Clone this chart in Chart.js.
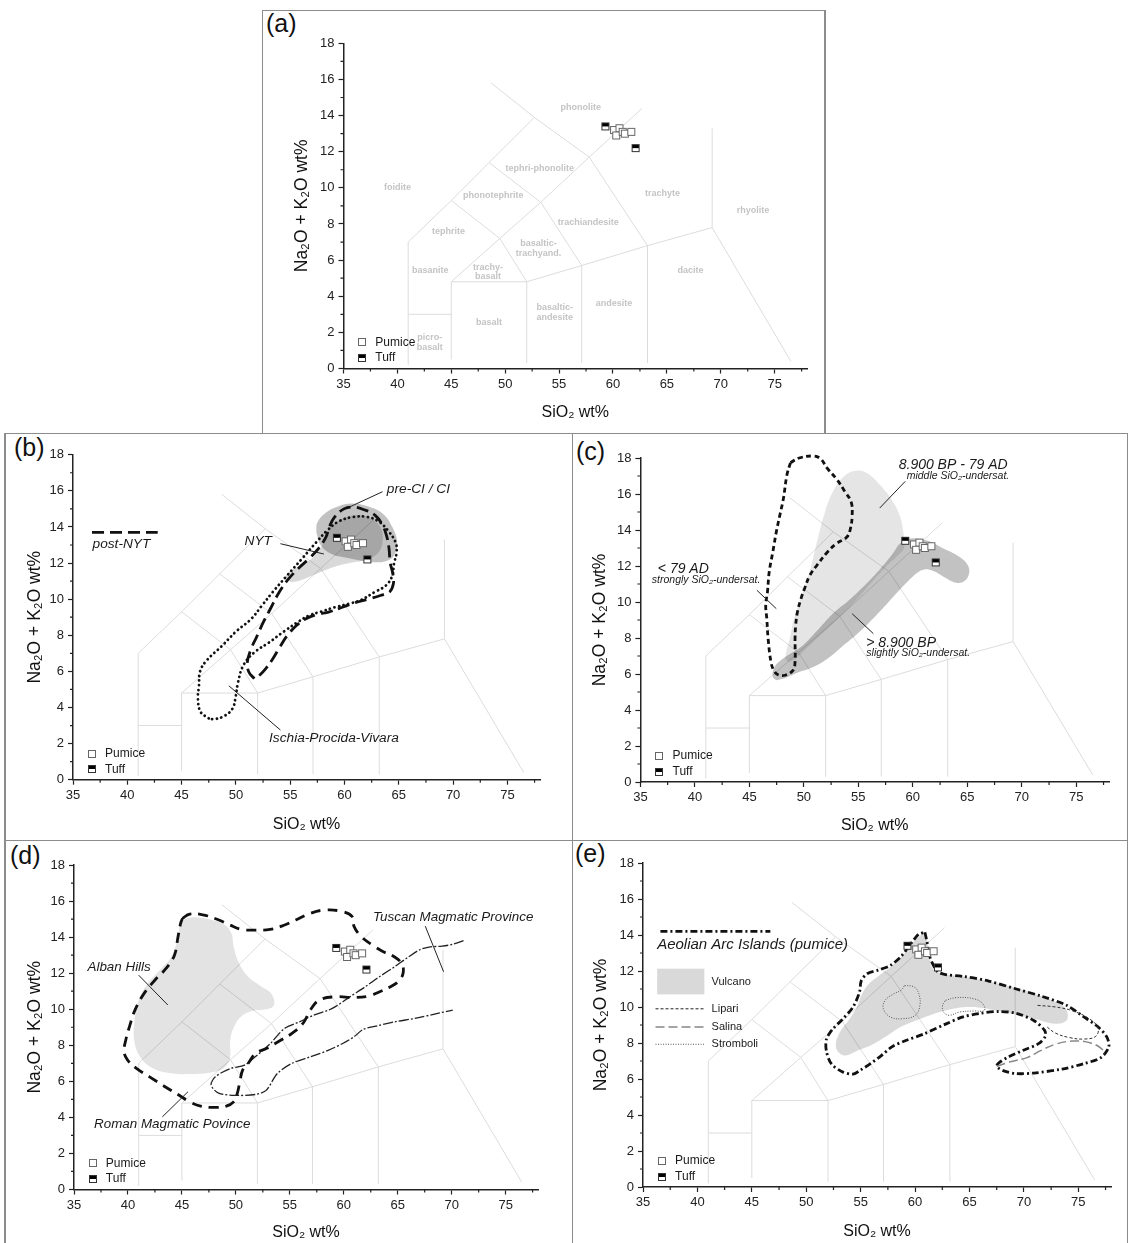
<!DOCTYPE html>
<html>
<head>
<meta charset="utf-8">
<title>TAS diagrams</title>
<script src="https://cdn.jsdelivr.net/npm/chart.js@4.4.1/dist/chart.umd.min.js"></script>
<style>
  html, body { margin: 0; background: #fff; }
  body { position: relative; width: 1129px; height: 1243px; overflow: hidden; font-family: "Liberation Sans", Arial, sans-serif; }
  canvas { position: absolute; }
  .rule { position: absolute; background: #8c8c8c; }
  .tag { position: absolute; font-size: 25px; line-height: 25px; color: #111; }
</style>
</head>
<body>
<div class="rule" style="left:261.5px;top:9.5px;width:1.5px;height:424px"></div>
<div class="rule" style="left:824px;top:9.5px;width:1.5px;height:424px"></div>
<div class="rule" style="left:261.5px;top:9.5px;width:564px;height:1.5px"></div>
<div class="rule" style="left:4px;top:432.5px;width:1124px;height:1.5px"></div>
<div class="rule" style="left:4px;top:839.5px;width:1124px;height:1.5px"></div>
<div class="rule" style="left:4px;top:433px;width:1.5px;height:810px"></div>
<div class="rule" style="left:571.5px;top:433px;width:1.5px;height:810px"></div>
<div class="rule" style="left:1126.5px;top:433px;width:1.5px;height:810px"></div>
<div class="tag" style="left:266px;top:11px">(a)</div>
<div class="tag" style="left:14px;top:435px">(b)</div>
<div class="tag" style="left:576px;top:439px">(c)</div>
<div class="tag" style="left:10px;top:843px">(d)</div>
<div class="tag" style="left:575px;top:841px">(e)</div>
<script>
// axis ticks
const xTicks = [35, 40, 45, 50, 55, 60, 65, 70, 75];
const yTicks = [0, 2, 4, 6, 8, 10, 12, 14, 16, 18];
const xMinor = [37.5, 42.5, 47.5, 52.5, 57.5, 62.5, 67.5, 72.5, 77.5];
const yMinor = [1, 3, 5, 7, 9, 11, 13, 15, 17];

// samples (SiO2 wt%, Na2O + K2O wt%)
const pumiceSiO2 = [60.1, 60.6, 60.3, 60.9, 61.1, 61.7];
const pumiceAlkali = [13.2, 13.3, 12.9, 13.1, 13.0, 13.1];
const tuffSiO2 = [59.3, 62.1];
const tuffAlkali = [13.4, 12.2];

// TAS classification boundaries
const tasLines = [
  [[41, 0.2], [41, 7], [45, 9.3], [48.5, 11.4], [52.7, 13.9]],
  [[48.7, 15.8], [52.7, 13.9], [57.8, 11.7], [63.2, 6.8]],
  [[45, 4.8], [49.5, 7.2], [53.3, 9.2], [57.8, 11.7], [62.7, 14.4]],
  [[45, 9.3], [49.5, 7.2], [52, 4.8]],
  [[48.5, 11.4], [53.3, 9.2], [57.1, 5.7]],
  [[41, 3], [45, 3]],
  [[45, 0.5], [45, 4.8], [52, 4.8], [57.1, 5.7], [63.2, 6.8], [69.2, 7.8], [76.5, 0.4]],
  [[52, 0.3], [52, 4.8]],
  [[57.1, 0.3], [57.1, 5.7]],
  [[63.2, 0.3], [63.2, 6.8]],
  [[69.2, 7.8], [69.2, 13.3]]
];
const fieldNames = ['foidite', 'phonolite', 'tephri-phonolite', 'phonotephrite', 'trachyte', 'rhyolite',
  'trachiandesite', 'tephrite', 'basaltic-\ntrachyand.', 'basanite', 'trachy-\nbasalt', 'dacite',
  'andesite', 'basaltic-\nandesite', 'basalt', 'picro-\nbasalt'];
const fieldAt = [[40, 10], [57, 14.45], [53.2, 11.05], [48.9, 9.6], [64.6, 9.7], [73, 8.75],
  [57.7, 8.1], [44.75, 7.6], [53.1, 6.65], [43.05, 5.45], [48.4, 5.35], [67.2, 5.4],
  [60.1, 3.6], [54.6, 3.1], [48.5, 2.55], [43, 1.45]];

// (b) Campi Flegrei / Ischia fields
const nytField = [[54.7, 11.05], [54.6, 11.3], [55.1, 11.6], [56.3, 11.95], [57.4, 12.5], [58.1, 13.15], [58.6, 13.9],
  [59.6, 14.4], [61, 14.65], [62.3, 14.5], [63.3, 14], [63.5, 13.15], [63, 12.5], [61.8, 12.15], [60.5, 12],
  [59.1, 11.8], [57.8, 11.5], [56.4, 11.15], [55.25, 10.95], [54.7, 11.05]];
const ciField = [[57.4, 13.7], [57.5, 14.25], [58.3, 14.8], [59.45, 15.15], [60.6, 15.3], [62.1, 15.15], [63.5, 14.75],
  [64.4, 14], [64.85, 13.15], [64.55, 12.4], [63.8, 12.1], [62.5, 12.05], [61.3, 12.15], [60.1, 12.3], [58.8, 12.5],
  [57.8, 13], [57.4, 13.7]];
const ischiaLoop = [[47.5, 3.4], [46.75, 3.75], [46.5, 4.5], [46.6, 5.2], [46.7, 6], [47.3, 6.6], [48.7, 7.4], [50, 8.2],
  [51.4, 8.9], [52.4, 9.65], [53.4, 10.4], [54.7, 11.3], [56.1, 12.25], [57.4, 13.15], [58.4, 13.8], [59.45, 14.3],
  [60.8, 14.55], [62.1, 14.55], [63.15, 14.3], [64, 13.8], [64.7, 13.15], [64.8, 12.6], [64.55, 11.95], [64.4, 11.3],
  [63.8, 10.75], [62.8, 10.4], [61.5, 9.95], [60.45, 9.75], [59.1, 9.55], [57.8, 9.3], [56.75, 9.1], [55.75, 8.75],
  [54.4, 8.2], [53.05, 7.6], [51.7, 7.05], [50.7, 6.35], [50.2, 5.4], [49.95, 4.5], [49.7, 3.95], [49, 3.55],
  [48, 3.35], [47.5, 3.4]];
const postNytLoop = [[51.7, 5.6], [51.2, 5.95], [51.05, 6.5], [51.4, 7.25], [51.9, 7.9], [52.55, 8.75], [53.25, 9.55],
  [53.9, 10.3], [54.75, 11.05], [55.75, 11.7], [56.75, 12.25], [57.6, 12.8], [58.3, 13.45], [58.6, 14], [59.1, 14.55],
  [59.95, 15], [60.8, 15.1], [61.8, 14.95], [62.8, 14.65], [63.5, 14.1], [63.9, 13.45], [64.1, 12.8], [64.2, 12.05],
  [64.45, 11.4], [64.5, 10.85], [64.15, 10.4], [63.3, 10.2], [62.15, 10], [60.95, 9.8], [59.8, 9.55], [58.6, 9.3],
  [57.45, 9.15], [56.4, 8.9], [55.6, 8.55], [54.75, 8], [54.05, 7.35], [53.4, 6.7], [52.75, 6.15], [52.2, 5.8], [51.7, 5.6]];

// (c) Somma-Vesuvius fields
const middleField = [[48.6, 6.67], [48.3, 6.85], [48.77, 8.15], [49.1, 9.07], [49.9, 10.56], [50.6, 11.85], [51.2, 13.33],
  [51.84, 14.81], [52.65, 16.11], [53.79, 17.04], [54.92, 17.31], [55.89, 17.13], [57.02, 16.48], [58, 15.74],
  [58.8, 14.81], [59.13, 13.89], [59.23, 13.06], [58.8, 12.69], [57.67, 12.04], [56.38, 11.2], [54.76, 10.09],
  [53.14, 9.07], [51.52, 8.15], [50.22, 7.41], [49.25, 6.85], [48.6, 6.67]];
const above8900Field = [[47.47, 5.65], [47.15, 5.83], [47.31, 6.39], [48.28, 6.94], [49.9, 7.59], [51.52, 8.61],
  [52.81, 9.44], [54.11, 10.09], [55.73, 11.02], [57.02, 11.85], [58.16, 12.69], [58.8, 13.24], [59.62, 13.52],
  [61.23, 13.43], [62.85, 12.96], [64.15, 12.56], [64.96, 12.13], [65.18, 11.67], [64.8, 11.2], [63.99, 11.07],
  [62.85, 11.39], [61.88, 11.72], [61.07, 11.81], [60.42, 11.63], [59.62, 11.2], [58.64, 10.59], [57.35, 9.72],
  [56.05, 8.89], [54.76, 8.15], [53.46, 7.5], [52.17, 6.85], [50.87, 6.39], [49.57, 6.11], [48.28, 5.78], [47.47, 5.65]];
const under79Loop = [[48.77, 17.74], [49.57, 18], [50.87, 18.11], [51.52, 17.96], [52.17, 17.41], [52.98, 16.85],
  [53.79, 16.11], [54.34, 15.56], [54.43, 14.81], [54.27, 14.07], [53.95, 13.61], [52.98, 13.24], [52.17, 12.78],
  [51.2, 12.04], [50.55, 11.48], [50.06, 10.74], [49.74, 10.19], [49.41, 9.44], [49.25, 8.7], [49.19, 7.96],
  [49.19, 6.67], [49, 6.2], [48.28, 5.93], [47.63, 5.96], [47.24, 6.2], [46.98, 6.67], [46.72, 7.96], [46.6, 9.07],
  [46.5, 9.81], [46.66, 10.56], [46.82, 11.67], [47.15, 12.78], [47.47, 13.89], [47.79, 14.81], [48.12, 15.74],
  [48.44, 17.04], [48.77, 17.74]];

// (d) Roman and Tuscan provinces
const albanField = [[44.8, 14.9], [46, 15.1], [47.4, 15], [48.9, 14.7], [49.6, 14.2], [49.8, 13.45], [50.3, 12.55],
  [51.15, 11.8], [52.15, 11.35], [53.15, 10.95], [53.55, 10.5], [53.45, 10.15], [52.85, 10], [51.5, 9.9], [50.5, 9.6],
  [49.9, 9.1], [49.5, 8.4], [49.45, 7.3], [49, 6.8], [47.8, 6.5], [45.8, 6.4], [44, 6.45], [42.4, 6.7], [41.2, 7.3],
  [40.6, 8.2], [40.6, 9.3], [41, 10.5], [41.8, 11.4], [43, 12.2], [44, 12.9], [44.6, 13.9], [44.75, 14.5], [44.8, 14.9]];
const romanLoop = [[45.05, 15.04], [45.73, 15.28], [47.08, 15.22], [48.43, 14.95], [49.45, 14.67], [50.47, 14.43],
  [51.48, 14.39], [53.17, 14.43], [54.53, 14.67], [55.54, 14.95], [56.9, 15.32], [58.25, 15.5], [59.94, 15.41],
  [60.79, 15.13], [60.96, 14.58], [61.63, 14.02], [62.65, 13.56], [63.66, 13.19], [64.68, 12.91], [65.36, 12.54],
  [65.52, 12.08], [65.19, 11.62], [64.34, 11.25], [63.32, 10.97], [62.31, 10.73], [60.96, 10.65], [59.26, 10.69],
  [57.74, 10.51], [56.9, 9.95], [56.22, 9.21], [55.2, 8.66], [54.19, 8.29], [52.83, 7.82], [51.82, 7.55], [51.14, 6.99],
  [50.63, 6.62], [50.4, 6.07], [50.13, 5.33], [49.79, 4.86], [49.11, 4.62], [48.1, 4.55], [46.74, 4.62], [45.73, 4.86],
  [44.71, 5.24], [43.36, 5.73], [42, 6.25], [40.82, 6.71], [39.97, 7.18], [39.64, 7.64], [39.8, 8.29], [40.14, 9.03],
  [40.65, 9.95], [41.5, 10.88], [42.51, 11.62], [43.53, 12.26], [44.31, 13], [44.64, 14.02], [44.88, 14.76], [45.05, 15.04]];
const tuscanLine = [[71.1, 13.8], [70.1, 13.6], [69.1, 13.5], [67.9, 13.45], [67.05, 13.3], [66, 12.9], [64.7, 12.35],
  [63.3, 11.8], [62, 11.25], [60.6, 10.7], [59.3, 10.17], [58.6, 9.95], [57.2, 9.67], [55.9, 9.3], [54.5, 8.93],
  [53.2, 8.1], [51.8, 7.36], [50.8, 6.9], [49.45, 6.7], [48.1, 6.25], [47.7, 5.8], [48.4, 5.35], [50.1, 5.22],
  [51.8, 5.27], [52.8, 5.5], [53.85, 6.44], [55.2, 7], [56.9, 7.36], [58.6, 7.73], [59.9, 8.1], [60.95, 8.47],
  [61.8, 8.88], [63, 9.06], [64.7, 9.3], [66.7, 9.5], [68.7, 9.77], [70.1, 9.95]];

// (e) Aeolian arc
const vulcanoField = [[52.75, 8.15], [53.18, 8.7], [53.99, 9.35], [54.64, 10], [55.13, 10.74], [55.78, 11.3],
  [56.92, 11.85], [57.9, 12.31], [58.88, 12.87], [59.69, 13.52], [60.34, 13.89], [60.83, 14.07], [61.16, 13.52],
  [61.32, 12.78], [61.64, 12.13], [62.46, 11.85], [64.41, 11.7], [67.67, 11.3], [70.93, 10.74], [73.53, 10.09],
  [74.02, 9.63], [73.86, 9.22], [72.88, 9.07], [70.93, 9.35], [67.67, 9.78], [65.07, 10], [62.79, 9.81], [60.5, 9.35],
  [58.55, 8.85], [57.25, 8.33], [55.94, 7.87], [54.64, 7.56], [53.66, 7.31], [53.18, 7.37], [52.75, 7.69], [52.75, 8.15]];
const aeolianLoop = [[60.9, 14.15], [61.1, 13.6], [61.3, 12.9], [61.65, 12.35], [62.1, 11.95], [62.8, 11.8], [64.4, 11.7],
  [66.7, 11.45], [69.3, 11], [71.6, 10.6], [73.9, 10.1], [75.5, 9.45], [76.8, 8.9], [77.6, 8.35], [77.8, 7.8],
  [77.1, 7.2], [75.5, 6.85], [73.5, 6.55], [70.9, 6.33], [69.3, 6.3], [68.15, 6.45], [67.5, 6.7], [67.7, 6.9],
  [68.65, 7.25], [69.95, 7.6], [71.3, 7.95], [71.95, 8.35], [71.9, 8.7], [70.9, 9.25], [69.3, 9.65], [67.7, 9.75],
  [66, 9.65], [64.4, 9.45], [62.8, 9.05], [60.8, 8.5], [59.2, 8.15], [57.9, 7.8], [56.9, 7.3], [55.9, 6.85], [55, 6.5],
  [54.3, 6.27], [53.3, 6.4], [52.3, 6.85], [51.85, 7.55], [51.85, 8.2], [52.4, 8.75], [53.3, 9.3], [54.3, 10],
  [54.9, 10.85], [55.05, 11.45], [55.6, 11.85], [56.6, 12.05], [57.7, 12.3], [58.7, 12.8], [59.4, 13.35], [59.9, 13.75],
  [60.35, 14.05], [60.9, 14.15]];
const stromboliLeft = [[59.04, 11.2], [59.92, 11.11], [60.34, 10.74], [60.44, 10.09], [60.02, 9.54], [58.88, 9.35],
  [57.74, 9.44], [57.08, 9.91], [57.25, 10.37], [58.06, 10.74], [58.71, 10.93], [59.04, 11.2]];
const stromboliRight = [[62.79, 10.37], [63.76, 10.52], [65.39, 10.46], [66.2, 10.19], [66.37, 9.81], [65.39, 9.78],
  [64.09, 9.72], [63.11, 9.54], [62.62, 9.72], [62.52, 10.09], [62.79, 10.37]];
const lipariLine = [[71.25, 10.09], [72.9, 10], [74.5, 9.78], [76, 9.35], [76.8, 8.85], [76.6, 8.37], [75.5, 8.22],
  [74.2, 8.3], [72.9, 8.55], [72, 8.95]];
const salinaLine = [[67.5, 6.7], [68.65, 6.94], [70.28, 7.19], [71.58, 7.59], [72.88, 7.93], [74.51, 8.11],
  [76.14, 8], [77.12, 7.69], [77.4, 7.4]];

// text notes (anchored in data units)
const notesB = [
  { text: 'pre-CI / CI', x: 63.9, y: 16.1 },
  { text: 'NYT', x: 50.8, y: 13.2 },
  { text: 'post-NYT', x: 36.8, y: 13.05 },
  { text: 'Ischia-Procida-Vivara', x: 53.05, y: 2.3 }
];
const leadersB = [[63.5, 15.95, 60.45, 15.1], [54.1, 13.07, 58.1, 12.5], [54.1, 2.75, 49.35, 5.2]];
const notesC = [
  { text: '8.900 BP - 79 AD', x: 68.7, y: 17.6, align: 'right' },
  { text: 'middle SiO₂-undersat.', x: 68.85, y: 16.98, align: 'right', small: true },
  { text: '< 79 AD', x: 36.6, y: 11.8 },
  { text: 'strongly SiO₂-undersat.', x: 36.05, y: 11.24, small: true },
  { text: '> 8.900 BP', x: 55.73, y: 7.74 },
  { text: 'slightly SiO₂-undersat.', x: 55.73, y: 7.19, small: true }
];
const leadersC = [[59.3, 16.7, 56.96, 15.22], [45.69, 10.65, 47.47, 9.63], [54.43, 9.35, 56.38, 8.24]];
const notesD = [
  { text: 'Alban Hills', x: 36.25, y: 12.32 },
  { text: 'Roman Magmatic Povince', x: 36.86, y: 3.63 },
  { text: 'Tuscan Magmatic Province', x: 62.7, y: 15.08 }
];
const leadersD = [[40.99, 11.89, 43.7, 10.23], [43.19, 4.03, 45.56, 5.42], [67.55, 14.61, 69.25, 12.08]];

// layout of the five panels on the page (pixels)
const panels = {
  a: { box: [263, 11, 561, 421], plot: [343.5, 43.3, 807, 368.5], yTitleX: 302, xTitleY: 412.7 },
  b: { box: [6, 434, 565, 405], plot: [73, 454.7, 540, 779.7], yTitleX: 35, xTitleY: 825 },
  c: { box: [574, 434, 552, 405], plot: [640.4, 458, 1109, 782], yTitleX: 600, xTitleY: 826 },
  d: { box: [6, 841, 565, 402], plot: [74, 865, 538, 1189.5], yTitleX: 35, xTitleY: 1233 },
  e: { box: [574, 841, 552, 402], plot: [643, 863, 1111, 1187], yTitleX: 601.5, xTitleY: 1232 }
};
const X_TITLE_SIZE = 16;
const Y_TITLE_SIZE = 17.5;

const FAMILY = '"Liberation Sans", Arial, sans-serif';
Chart.defaults.font.family = FAMILY;
Chart.defaults.color = '#222';
Chart.defaults.animation = false;
Chart.defaults.events = [];
Chart.defaults.plugins.legend.display = false;
Chart.defaults.plugins.tooltip.enabled = false;

function makeMark(half) {
  const c = document.createElement('canvas');
  c.width = 10;
  c.height = 10;
  const g = c.getContext('2d');
  g.fillStyle = '#fff';
  g.fillRect(1, 1, 8, 8);
  if (half) {
    g.fillStyle = '#000';
    g.fillRect(1, 1, 8, 4);
  }
  g.strokeStyle = half ? '#333' : '#666';
  g.lineWidth = 1;
  g.strokeRect(1.5, 1.5, 7, 7);
  return c;
}
const pumiceMark = makeMark(false);
const tuffMark = makeMark(true);

const pts = list => list.map(([x, y]) => ({ x, y }));
const pairs = (xs, ys) => xs.map((x, i) => ({ x, y: ys[i] }));

function tasDatasets() {
  return tasLines.map(line => ({
    data: pts(line), showLine: true, borderColor: '#dcdcdc', borderWidth: 1,
    pointRadius: 0, order: 30, clip: false
  }));
}
function field(list, shade) {
  return {
    data: pts(list), showLine: true, fill: 'shape', backgroundColor: shade,
    borderColor: 'rgba(0,0,0,0)', borderWidth: 0, pointRadius: 0, tension: 0.4, order: 25, clip: false
  };
}
function outline(list, style) {
  return Object.assign({
    data: pts(list), showLine: true, fill: false, borderColor: '#111',
    borderWidth: 2.6, pointRadius: 0, tension: 0.4, order: 20, clip: false
  }, style);
}
function sampleDatasets() {
  return [
    { label: 'Pumice', data: pairs(pumiceSiO2, pumiceAlkali), pointStyle: pumiceMark, pointRadius: 5, order: 1, clip: false },
    { label: 'Tuff', data: pairs(tuffSiO2, tuffAlkali), pointStyle: tuffMark, pointRadius: 5, order: 0, clip: false }
  ];
}

// minor ticks, drawn through the scales
const minorTicks = {
  id: 'minorTicks',
  afterDraw(chart) {
    const { ctx, chartArea: a, scales: { x, y } } = chart;
    ctx.save();
    ctx.strokeStyle = '#222';
    ctx.lineWidth = 1.2;
    ctx.beginPath();
    xMinor.forEach(v => {
      const px = x.getPixelForValue(v);
      ctx.moveTo(px, a.bottom);
      ctx.lineTo(px, a.bottom + 3);
    });
    yMinor.forEach(v => {
      const py = y.getPixelForValue(v);
      ctx.moveTo(a.left, py);
      ctx.lineTo(a.left - 3, py);
    });
    ctx.stroke();
    ctx.restore();
  }
};

const at = (chart, x, y) => [chart.scales.x.getPixelForValue(x), chart.scales.y.getPixelForValue(y)];

function write(ctx, chart, str, x, y, font, align) {
  const [px, py] = at(chart, x, y);
  ctx.font = font;
  ctx.textAlign = align || 'left';
  ctx.textBaseline = 'middle';
  ctx.fillText(str, px, py);
}
function leader(ctx, chart, s) {
  const [x1, y1] = at(chart, s[0], s[1]);
  const [x2, y2] = at(chart, s[2], s[3]);
  ctx.strokeStyle = '#222';
  ctx.lineWidth = 1;
  ctx.setLineDash([]);
  ctx.beginPath();
  ctx.moveTo(x1, y1);
  ctx.lineTo(x2, y2);
  ctx.stroke();
}
function keyLine(ctx, chart, x1, x2, y, width, dash, color) {
  const [a1, b] = at(chart, x1, y);
  const [a2] = at(chart, x2, y);
  ctx.save();
  ctx.strokeStyle = color || '#111';
  ctx.lineWidth = width;
  ctx.setLineDash(dash);
  ctx.beginPath();
  ctx.moveTo(a1, b);
  ctx.lineTo(a2, b);
  ctx.stroke();
  ctx.restore();
}
function notes(ctx, chart, list, leaders, size) {
  ctx.fillStyle = '#1a1a1a';
  list.forEach(n => write(ctx, chart, n.text, n.x, n.y,
    'italic ' + (n.small ? 10.5 : size) + 'px ' + FAMILY, n.align));
  leaders.forEach(s => leader(ctx, chart, s));
}
function sampleKey(ctx, chart) {
  [[pumiceMark, 'Pumice', 1.45], [tuffMark, 'Tuff', 0.58]].forEach(([mark, name, y]) => {
    const [mx, my] = at(chart, 36.75, y);
    ctx.drawImage(mark, Math.round(mx - 5), Math.round(my - 5));
    ctx.fillStyle = '#1a1a1a';
    write(ctx, chart, name, 37.95, y, '12px ' + FAMILY);
  });
}

function drawA(ctx, chart) {
  ctx.fillStyle = '#c4c4c4';
  fieldNames.forEach((name, i) => {
    const rows = name.split('\n');
    const [px, py] = at(chart, fieldAt[i][0], fieldAt[i][1]);
    ctx.font = 'bold 9px ' + FAMILY;
    ctx.textAlign = 'center';
    ctx.textBaseline = 'middle';
    rows.forEach((r, k) => ctx.fillText(r, px, py + (k - (rows.length - 1) / 2) * 9.5));
  });
  sampleKey(ctx, chart);
}
function drawB(ctx, chart) {
  keyLine(ctx, chart, 36.75, 42.8, 13.7, 2.8, [12, 6]);
  notes(ctx, chart, notesB, leadersB, 13.7);
  sampleKey(ctx, chart);
}
function drawC(ctx, chart) {
  notes(ctx, chart, notesC, leadersC, 14);
  sampleKey(ctx, chart);
}
function drawD(ctx, chart) {
  notes(ctx, chart, notesD, leadersD, 13.4);
  sampleKey(ctx, chart);
}
function drawE(ctx, chart) {
  keyLine(ctx, chart, 36.6, 46.7, 14.2, 2.8, [7, 3, 2, 3]);
  ctx.fillStyle = '#1a1a1a';
  write(ctx, chart, 'Aeolian Arc Islands (pumice)', 36.3, 13.48, 'italic 15px ' + FAMILY);
  const [rx, ry] = at(chart, 36.3, 12.13);
  const [rx2, ry2] = at(chart, 40.64, 10.7);
  ctx.fillStyle = 'rgba(0,0,0,0.15)';
  ctx.fillRect(rx, ry, rx2 - rx, ry2 - ry);
  keyLine(ctx, chart, 36.15, 40.64, 9.9, 1, [3, 2], '#222');
  keyLine(ctx, chart, 36.15, 40.64, 8.89, 1.5, [9, 4], '#888');
  keyLine(ctx, chart, 36.15, 40.64, 7.93, 1, [1, 1.5], '#555');
  ctx.fillStyle = '#1a1a1a';
  [['Vulcano', 11.4], ['Lipari', 9.9], ['Salina', 8.89], ['Stromboli', 7.93]].forEach(([name, y]) =>
    write(ctx, chart, name, 41.3, y, '11px ' + FAMILY));
  sampleKey(ctx, chart);
}

function axes(yWidth, xHeight) {
  const grid = { display: true, drawOnChartArea: false, drawTicks: true, tickLength: 5, tickColor: '#222', tickWidth: 1.2 };
  const border = { display: true, color: '#222', width: 1.5 };
  const title = (text, size) => ({ display: true, text, color: '#111', font: { size }, padding: 0 });
  return {
    x: {
      type: 'linear', min: 35, max: 78, grid, border, title: title('SiO₂ wt%', X_TITLE_SIZE),
      ticks: { color: '#222', font: { size: 13 }, padding: 3, autoSkip: false, maxRotation: 0 },
      afterBuildTicks: s => { s.ticks = xTicks.map(v => ({ value: v })); },
      afterFit: s => { s.height = xHeight; }
    },
    y: {
      type: 'linear', min: 0, max: 18, grid, border, title: title('Na₂O + K₂O wt%', Y_TITLE_SIZE),
      ticks: { color: '#222', font: { size: 13 }, padding: 4, autoSkip: false },
      afterBuildTicks: s => { s.ticks = yTicks.map(v => ({ value: v })); },
      afterFit: s => { s.width = yWidth; }
    }
  };
}

function makeChart(key, extraSets, draw) {
  const p = panels[key];
  const [bx, by, bw, bh] = p.box;
  const [L, T, R, B] = p.plot;
  const axisLeft = p.yTitleX - Y_TITLE_SIZE * 1.2 / 2;
  const axisBottom = p.xTitleY + X_TITLE_SIZE * 1.2 / 2;
  const canvas = document.createElement('canvas');
  canvas.width = bw;
  canvas.height = bh;
  canvas.style.left = bx + 'px';
  canvas.style.top = by + 'px';
  document.body.appendChild(canvas);
  new Chart(canvas, {
    type: 'scatter',
    data: { datasets: tasDatasets().concat(extraSets, sampleDatasets()) },
    options: {
      responsive: false,
      devicePixelRatio: 1,
      layout: { padding: { left: axisLeft - bx, top: T - by, right: bx + bw - R, bottom: by + bh - axisBottom } },
      scales: axes(L - axisLeft, axisBottom - B)
    },
    plugins: [minorTicks, {
      id: 'overlay',
      afterDatasetsDraw(chart) {
        chart.ctx.save();
        draw(chart.ctx, chart);
        chart.ctx.restore();
      }
    }]
  });
}

makeChart('a', [], drawA);
makeChart('b', [
  field(nytField, 'rgba(0,0,0,0.15)'),
  field(ciField, 'rgba(0,0,0,0.24)'),
  outline(ischiaLoop, { borderDash: [0.1, 4.6], borderCapStyle: 'round', borderWidth: 2.8 }),
  outline(postNytLoop, { borderDash: [12, 6], borderWidth: 2.8 })
], drawB);
makeChart('c', [
  field(above8900Field, 'rgba(0,0,0,0.24)'),
  field(middleField, 'rgba(0,0,0,0.1)'),
  outline(under79Loop, { borderDash: [5, 3.5], borderWidth: 2.8 })
], drawC);
makeChart('d', [
  field(albanField, 'rgba(0,0,0,0.11)'),
  outline(romanLoop, { borderDash: [10, 7], borderWidth: 2.8 }),
  outline(tuscanLine, { borderDash: [10, 2, 2, 2], borderWidth: 1.3, borderColor: '#222', tension: 0.3 })
], drawD);
makeChart('e', [
  field(vulcanoField, 'rgba(0,0,0,0.15)'),
  outline(stromboliLeft, { borderDash: [1, 1.5], borderWidth: 1, borderColor: '#555' }),
  outline(stromboliRight, { borderDash: [1, 1.5], borderWidth: 1, borderColor: '#555' }),
  outline(lipariLine, { borderDash: [3, 2], borderWidth: 1, borderColor: '#333' }),
  outline(salinaLine, { borderDash: [9, 4], borderWidth: 1.5, borderColor: '#888' }),
  outline(aeolianLoop, { borderDash: [7, 3, 2, 3], borderWidth: 2.8, tension: 0.3 })
], drawE);
</script>
</body>
</html>
